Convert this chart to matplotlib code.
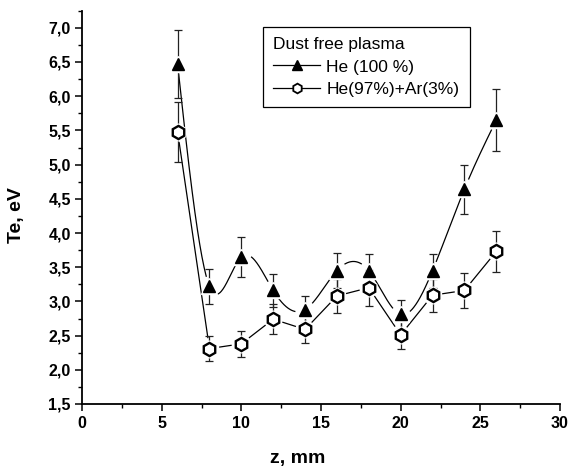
import numpy as np
import matplotlib
matplotlib.use('Agg')
import matplotlib.pyplot as plt
from matplotlib.ticker import MultipleLocator, FuncFormatter
from matplotlib.lines import Line2D

# ---- data ----
z = [6, 8, 10, 12, 14, 16, 18, 20, 22, 24, 26]
te_he = [6.47, 3.22, 3.65, 3.16, 2.88, 3.45, 3.45, 2.81, 3.45, 4.64, 5.65]
err_he = [0.50, 0.26, 0.29, 0.24, 0.20, 0.26, 0.25, 0.21, 0.25, 0.36, 0.45]
te_ar = [5.48, 2.31, 2.38, 2.74, 2.59, 3.08, 3.20, 2.51, 3.09, 3.16, 3.73]
err_ar = [0.44, 0.18, 0.19, 0.22, 0.20, 0.25, 0.26, 0.20, 0.24, 0.26, 0.30]
label_he = 'He (100 %)'
label_ar = 'He(97%)+Ar(3%)'
legend_title = 'Dust free plasma'
xlabel = 'z, mm'
ylabel = 'Te, eV'

plt.rcParams['font.family'] = ['Liberation Sans', 'DejaVu Sans']

W, H = 570, 471
fig = plt.figure(figsize=(W / 100, H / 100), dpi=100)
x0, x1, y0, y1 = 82, 560, 404, 10.7
ax = fig.add_axes([x0 / W, 1 - y0 / H, (x1 - x0) / W, (y0 - y1) / H])
ax.set_xlim(0, 30)
ax.set_ylim(1.5, 7.25)


def natural_spline(x, y, n=60):
    x = np.asarray(x, float)
    y = np.asarray(y, float)
    m = len(x)
    h = np.diff(x)
    A = np.zeros((m, m))
    b = np.zeros(m)
    A[0, 0] = A[-1, -1] = 1
    for i in range(1, m - 1):
        A[i, i - 1] = h[i - 1]
        A[i, i] = 2 * (h[i - 1] + h[i])
        A[i, i + 1] = h[i]
        b[i] = 6 * ((y[i + 1] - y[i]) / h[i] - (y[i] - y[i - 1]) / h[i - 1])
    M = np.linalg.solve(A, b)
    xs, ys = [], []
    for i in range(m - 1):
        t = np.linspace(x[i], x[i + 1], n)
        a = x[i + 1] - t
        bb = t - x[i]
        s = ((M[i] * a ** 3 + M[i + 1] * bb ** 3) / (6 * h[i])
             + (y[i] / h[i] - M[i] * h[i] / 6) * a
             + (y[i + 1] / h[i] - M[i + 1] * h[i] / 6) * bb)
        xs.append(t)
        ys.append(s)
    return np.concatenate(xs), np.concatenate(ys)


def linear_dense(x, y, n=60):
    xs, ys = [], []
    for i in range(len(x) - 1):
        xs.append(np.linspace(x[i], x[i + 1], n))
        ys.append(np.linspace(y[i], y[i + 1], n))
    return np.concatenate(xs), np.concatenate(ys)


def gapped(xs, ys, px, py, r):
    pts = ax.transData.transform(np.column_stack([xs, ys]))
    mk = ax.transData.transform(np.column_stack([px, py]))
    d = np.min(np.hypot(pts[:, None, 0] - mk[None, :, 0],
                        pts[:, None, 1] - mk[None, :, 1]), axis=1)
    return np.where(d < r, np.nan, ys)


# lines
sx, sy = natural_spline(z, te_he)
ax.plot(sx, gapped(sx, sy, z, te_he, 10), color='black', lw=0.9, zorder=2)
lx, ly = linear_dense(z, te_ar)
ax.plot(lx, gapped(lx, ly, z, te_ar, 10), color='black', lw=0.9, zorder=2)

# error bars
ax.errorbar(z, te_he, yerr=err_he, fmt='none', ecolor='#222222',
            elinewidth=0.9, capsize=3, capthick=0.9, zorder=3)
ax.errorbar(z, te_ar, yerr=err_ar, fmt='none', ecolor='#222222',
            elinewidth=0.9, capsize=3, capthick=0.9, zorder=3)

# white halos then markers
ax.plot(z, te_he, ls='none', marker='^', ms=11.5, color='white', mec='white', zorder=4)
ax.plot(z, te_ar, ls='none', marker='h', ms=12, color='white', mec='white', zorder=4)
ax.plot(z, te_he, ls='none', marker='^', ms=8.5, color='black', mec='black', zorder=5)
ax.plot(z, te_ar, ls='none', marker='h', ms=9.5, mfc='white', mec='black', mew=1.7, zorder=5)

# axes styling
for s in ['top', 'right']:
    ax.spines[s].set_visible(False)
for s in ['left', 'bottom']:
    ax.spines[s].set_linewidth(1.3)
ax.xaxis.set_major_locator(MultipleLocator(5))
ax.xaxis.set_minor_locator(MultipleLocator(2.5))
ax.yaxis.set_major_locator(MultipleLocator(0.5))
ax.yaxis.set_minor_locator(MultipleLocator(0.25))
ax.yaxis.set_major_formatter(FuncFormatter(lambda v, p: f'{v:.1f}'.replace('.', ',')))
ax.tick_params(which='major', direction='out', length=5, width=1.1, labelsize=11.5)
ax.tick_params(which='minor', direction='out', length=3, width=1.0)
ax.tick_params(axis='x', which='major', pad=4)
ax.tick_params(axis='y', which='major', pad=3)
for lab in ax.get_xticklabels() + ax.get_yticklabels():
    lab.set_fontweight('bold')

fig.text(298 / W, 1 - 458 / H, xlabel, ha='center', va='center',
         fontsize=14, fontweight='bold')
fig.text(17 / W, 1 - 215 / H, ylabel, ha='center', va='center',
         rotation=90, fontsize=14, fontweight='bold')

# legend
handles = [
    Line2D([], [], color='black', lw=0.9, marker='^', ms=7.5, mfc='black', mec='black'),
    Line2D([], [], color='black', lw=0.9, marker='h', ms=7, mfc='white', mec='black', mew=1.3),
]
leg = ax.legend(handles, [label_he, label_ar], title=legend_title,
                loc='upper left', bbox_to_anchor=(263 / W, 1 - 27 / H),
                bbox_transform=fig.transFigure, borderaxespad=0,
                fontsize=12.5, title_fontsize=12.5, alignment='left',
                frameon=True, fancybox=False, edgecolor='black',
                handlelength=2.7, handletextpad=0.35, labelspacing=0.42,
                borderpad=0.6, framealpha=1)
leg.get_frame().set_linewidth(0.9)
leg._legend_box.sep = 5

fig.savefig('out.png', dpi=100)
